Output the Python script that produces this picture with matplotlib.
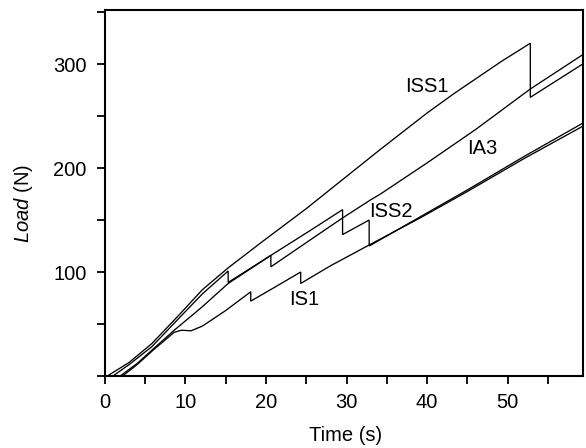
import matplotlib
matplotlib.use("Agg")
import matplotlib.pyplot as plt
from matplotlib.ticker import MultipleLocator

plt.rcParams['font.family'] = ['Liberation Sans', 'DejaVu Sans']
plt.rcParams['mathtext.fontset'] = 'custom'
plt.rcParams['mathtext.rm'] = 'Liberation Sans'
plt.rcParams['mathtext.it'] = 'Liberation Sans:italic'

# ---- data ----
iss1_t = [0.3, 3, 5.8, 9, 12.1, 15.3, 19.5, 25, 30, 34.2, 40, 43.4, 49.3, 52.8, 52.8, 59.5]
iss1_load = [0, 13, 31, 57, 83, 104, 129, 161, 192, 218, 253, 272, 303, 320, 268, 301]

ia3_t = [1.0, 3, 5.8, 9, 12.1, 15.3, 15.3, 20.6, 20.6, 25.7, 29.5, 32.9, 34.2, 40, 46, 52.8, 59.5]
ia3_load = [0, 11, 28, 54, 79, 101, 90, 116, 105, 132, 152, 169, 175, 205, 237, 276, 310]

iss2_t = [1.9, 4, 6, 8.6, 12, 15.3, 20.6, 25.7, 29.5, 29.5, 32.8, 32.8, 39, 45, 52, 59.5]
iss2_load = [0, 12, 26, 44, 66, 89, 116, 141, 160, 136, 150, 125, 152.5, 179, 211, 244]

is1_t = [2.2, 4, 6, 8.6, 9.5, 10.7, 12.1, 15, 18.1, 18.1, 21, 24.3, 24.3, 28, 32.8, 39, 45, 52, 59.5]
is1_load = [0, 11, 25, 42, 44, 43.5, 48, 63, 81, 72, 85, 100, 89, 106, 126, 151.5, 177.5, 209, 241]

labels = ["ISS1", "IA3", "ISS2", "IS1"]
label_pos = [(40.0, 278), (46.8, 219), (35.5, 158), (24.7, 74)]

x_ticks = [0, 10, 20, 30, 40, 50]
y_ticks = [100, 200, 300]

FS = 14.5

# ---- figure ----
fig = plt.figure(figsize=(5.86, 4.48), dpi=100)
ax = fig.add_axes([0.179, 0.1607, 0.8167, 0.817])

for t, l in [(iss1_t, iss1_load), (ia3_t, ia3_load), (iss2_t, iss2_load), (is1_t, is1_load)]:
    ax.plot(t, l, color='black', lw=0.95, solid_joinstyle='miter')

for name, (x, y) in zip(labels, label_pos):
    ax.text(x, y, name, ha='center', va='center', fontsize=FS, color='black')

ax.set_xlim(0, 59.4)
ax.set_ylim(0, 352)
ax.set_xticks(x_ticks)
ax.set_yticks(y_ticks)
ax.xaxis.set_minor_locator(MultipleLocator(5))
ax.yaxis.set_minor_locator(MultipleLocator(50))
ax.tick_params(which='both', direction='out', length=6, width=1.3, color='black')
ax.tick_params(axis='x', which='major', pad=6, labelsize=FS)
ax.tick_params(axis='y', which='major', pad=7, labelsize=FS)
for s in ax.spines.values():
    s.set_linewidth(1.5)

ax.set_xlabel("Time (s)", fontsize=FS)
ax.set_ylabel(r"$\mathit{Load}$ (N)", fontsize=FS)
ax.xaxis.set_label_coords(0.502, -0.137)
ax.yaxis.set_label_coords(-0.145, 0.47)

fig.savefig("out.png", dpi=100)
